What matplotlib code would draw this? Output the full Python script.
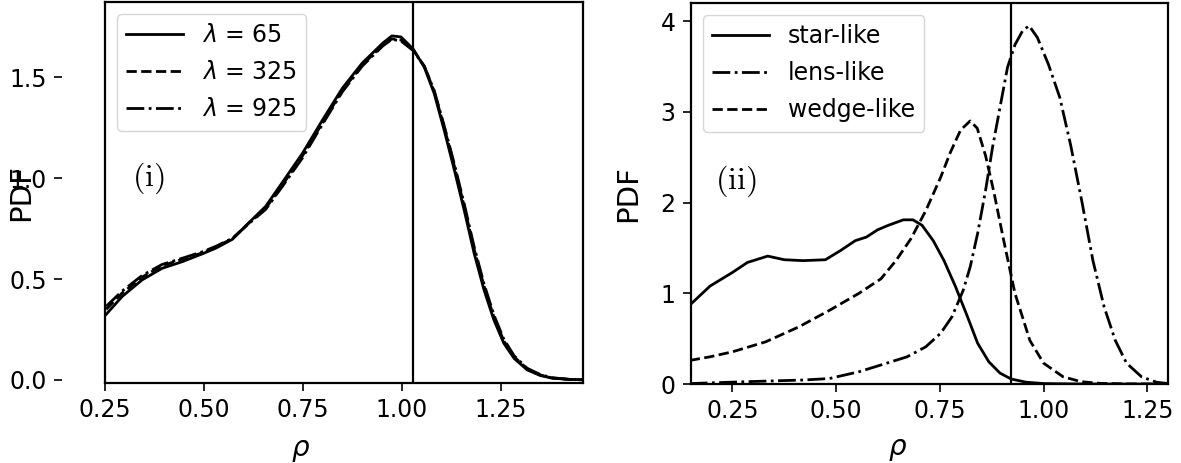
import matplotlib
matplotlib.use("Agg")
import matplotlib.pyplot as plt

plt.rcParams["mathtext.fontset"] = "dejavusans"

# ---- panel (i): PDF of rho for three lambda values ----
rho_i = [0.253, 0.293, 0.344, 0.394, 0.445, 0.496, 0.530, 0.572, 0.614, 0.656,
         0.698, 0.749, 0.800, 0.850, 0.900, 0.952, 0.975, 0.998, 1.029, 1.057,
         1.082, 1.107, 1.133, 1.158, 1.183, 1.208, 1.233, 1.258, 1.284, 1.317,
         1.350, 1.380, 1.420, 1.458]
pdf_65 = [0.325, 0.413, 0.496, 0.553, 0.586, 0.625, 0.653, 0.697, 0.780, 0.860,
          0.978, 1.123, 1.289, 1.446, 1.570, 1.669, 1.705, 1.700, 1.640, 1.550,
          1.420, 1.240, 1.040, 0.840, 0.628, 0.446, 0.297, 0.182, 0.107, 0.050,
          0.022, 0.009, 0.003, 0.001]
pdf_325 = [0.350, 0.430, 0.510, 0.566, 0.598, 0.630, 0.660, 0.700, 0.778, 0.850,
           0.965, 1.110, 1.275, 1.435, 1.560, 1.660, 1.690, 1.685, 1.635, 1.555,
           1.430, 1.255, 1.060, 0.860, 0.648, 0.465, 0.312, 0.194, 0.115, 0.055,
           0.025, 0.010, 0.003, 0.001]
pdf_925 = [0.365, 0.440, 0.518, 0.572, 0.603, 0.635, 0.662, 0.702, 0.775, 0.845,
           0.958, 1.100, 1.268, 1.428, 1.555, 1.655, 1.688, 1.680, 1.632, 1.555,
           1.435, 1.262, 1.070, 0.872, 0.660, 0.476, 0.322, 0.202, 0.120, 0.058,
           0.027, 0.011, 0.004, 0.001]
vline_i = 1.028

# ---- panel (ii): PDF of rho for three shape classes ----
rho_star = [0.147, 0.196, 0.250, 0.286, 0.335, 0.375, 0.420, 0.474, 0.510, 0.546,
            0.573, 0.600, 0.626, 0.662, 0.685, 0.707, 0.734, 0.760, 0.788, 0.815,
            0.841, 0.868, 0.895, 0.922, 0.958, 1.000, 1.100, 1.300]
pdf_star = [0.87, 1.08, 1.23, 1.34, 1.41, 1.37, 1.36, 1.37, 1.47, 1.58,
            1.62, 1.70, 1.75, 1.81, 1.81, 1.75, 1.58, 1.36, 1.07, 0.76,
            0.45, 0.245, 0.12, 0.055, 0.02, 0.005, 0.0, 0.0]

rho_lens = [0.147, 0.286, 0.420, 0.483, 0.555, 0.608, 0.671, 0.716, 0.752, 0.779,
            0.806, 0.823, 0.841, 0.860, 0.877, 0.895, 0.913, 0.931, 0.949, 0.965,
            0.985, 1.012, 1.039, 1.065, 1.092, 1.119, 1.146, 1.173, 1.200, 1.236,
            1.272, 1.300]
pdf_lens = [0.005, 0.026, 0.044, 0.06, 0.135, 0.21, 0.30, 0.41, 0.56, 0.74,
            1.03, 1.29, 1.66, 2.13, 2.61, 3.05, 3.49, 3.74, 3.89, 3.95,
            3.82, 3.52, 3.16, 2.64, 2.02, 1.36, 0.85, 0.48, 0.23, 0.08,
            0.02, 0.005]

rho_wedge = [0.147, 0.196, 0.250, 0.330, 0.410, 0.483, 0.555, 0.608, 0.644, 0.680,
             0.716, 0.752, 0.775, 0.800, 0.823, 0.840, 0.860, 0.880, 0.904, 0.931,
             0.967, 1.000, 1.047, 1.090, 1.137, 1.200, 1.300]
pdf_wedge = [0.26, 0.30, 0.355, 0.465, 0.63, 0.81, 1.00, 1.16, 1.36, 1.60,
             1.91, 2.28, 2.55, 2.80, 2.90, 2.82, 2.52, 2.12, 1.58, 1.00,
             0.48, 0.23, 0.08, 0.026, 0.007, 0.001, 0.0]
vline_ii = 0.922

LW = 2.0
FRAME_LW = 1.6
TICK_FS = 17

fig = plt.figure(figsize=(11.81, 4.63), dpi=100)
ax1 = fig.add_axes([0.0889, 0.1728, 0.4047, 0.8229])
ax2 = fig.add_axes([0.5851, 0.1706, 0.4039, 0.8229])

# panel (i)
ax1.plot(rho_i, pdf_65, "k-", lw=LW, label=r"$\lambda$ = 65")
ax1.plot(rho_i, pdf_325, "k--", lw=LW, label=r"$\lambda$ = 325")
ax1.plot(rho_i, pdf_925, "k-.", lw=LW, label=r"$\lambda$ = 925")
ax1.axvline(vline_i, color="k", lw=FRAME_LW)
ax1.set_xlim(0.25, 1.458)
ax1.set_ylim(-0.015, 1.873)
ax1.set_xticks([0.25, 0.50, 0.75, 1.00, 1.25])
ax1.set_yticks([0.0, 0.5, 1.0, 1.5])
ax1.set_yticklabels(["0.0", "0.5", "1.0", "1.5"])
# y ticks sit away from the frame in the original
ax1.spines["left"].set_position(("outward", 31))
ax1.spines["left"].set_color("none")
ax1.plot([0, 0], [0, 1], transform=ax1.transAxes, color="k", lw=FRAME_LW, clip_on=False)
ax1.text(0.318, 1.0, r"$(\mathrm{i})$", fontsize=23, va="center", ha="left",
         math_fontfamily="cm")
ax1.legend(loc="upper left", fontsize=17, handlelength=2.4,
           borderaxespad=0.5, labelspacing=0.55)
ax1.set_xlabel(r"$\rho$", fontsize=20)
ax1.set_ylabel("PDF", fontsize=21)
ax1.xaxis.set_label_coords(0.41, -0.14)
ax1.yaxis.set_label_coords(-0.146, 0.5)

# panel (ii)
ax2.plot(rho_star, pdf_star, "k-", lw=LW, label="star-like")
ax2.plot(rho_lens, pdf_lens, "k-.", lw=LW, label="lens-like")
ax2.plot(rho_wedge, pdf_wedge, "k--", lw=LW, label="wedge-like")
ax2.axvline(vline_ii, color="k", lw=FRAME_LW)
ax2.set_xlim(0.15, 1.3)
ax2.set_ylim(0, 4.2)
ax2.set_xticks([0.25, 0.50, 0.75, 1.00, 1.25])
ax2.set_yticks([0, 1, 2, 3, 4])
ax2.text(0.208, 2.24, r"$(\mathrm{ii})$", fontsize=23, va="center", ha="left",
         math_fontfamily="cm")
ax2.legend(loc="upper left", fontsize=17, handlelength=2.4,
           borderaxespad=0.5, labelspacing=0.55)
ax2.set_xlabel(r"$\rho$", fontsize=20)
ax2.set_ylabel("PDF", fontsize=21)
ax2.xaxis.set_label_coords(0.434, -0.135)
ax2.yaxis.set_label_coords(-0.103, 0.5)

for ax in (ax1, ax2):
    ax.tick_params(labelsize=TICK_FS, length=6, width=1.2, pad=5)
    for s in ax.spines.values():
        s.set_linewidth(FRAME_LW)

fig.savefig("out.png", dpi=100)
